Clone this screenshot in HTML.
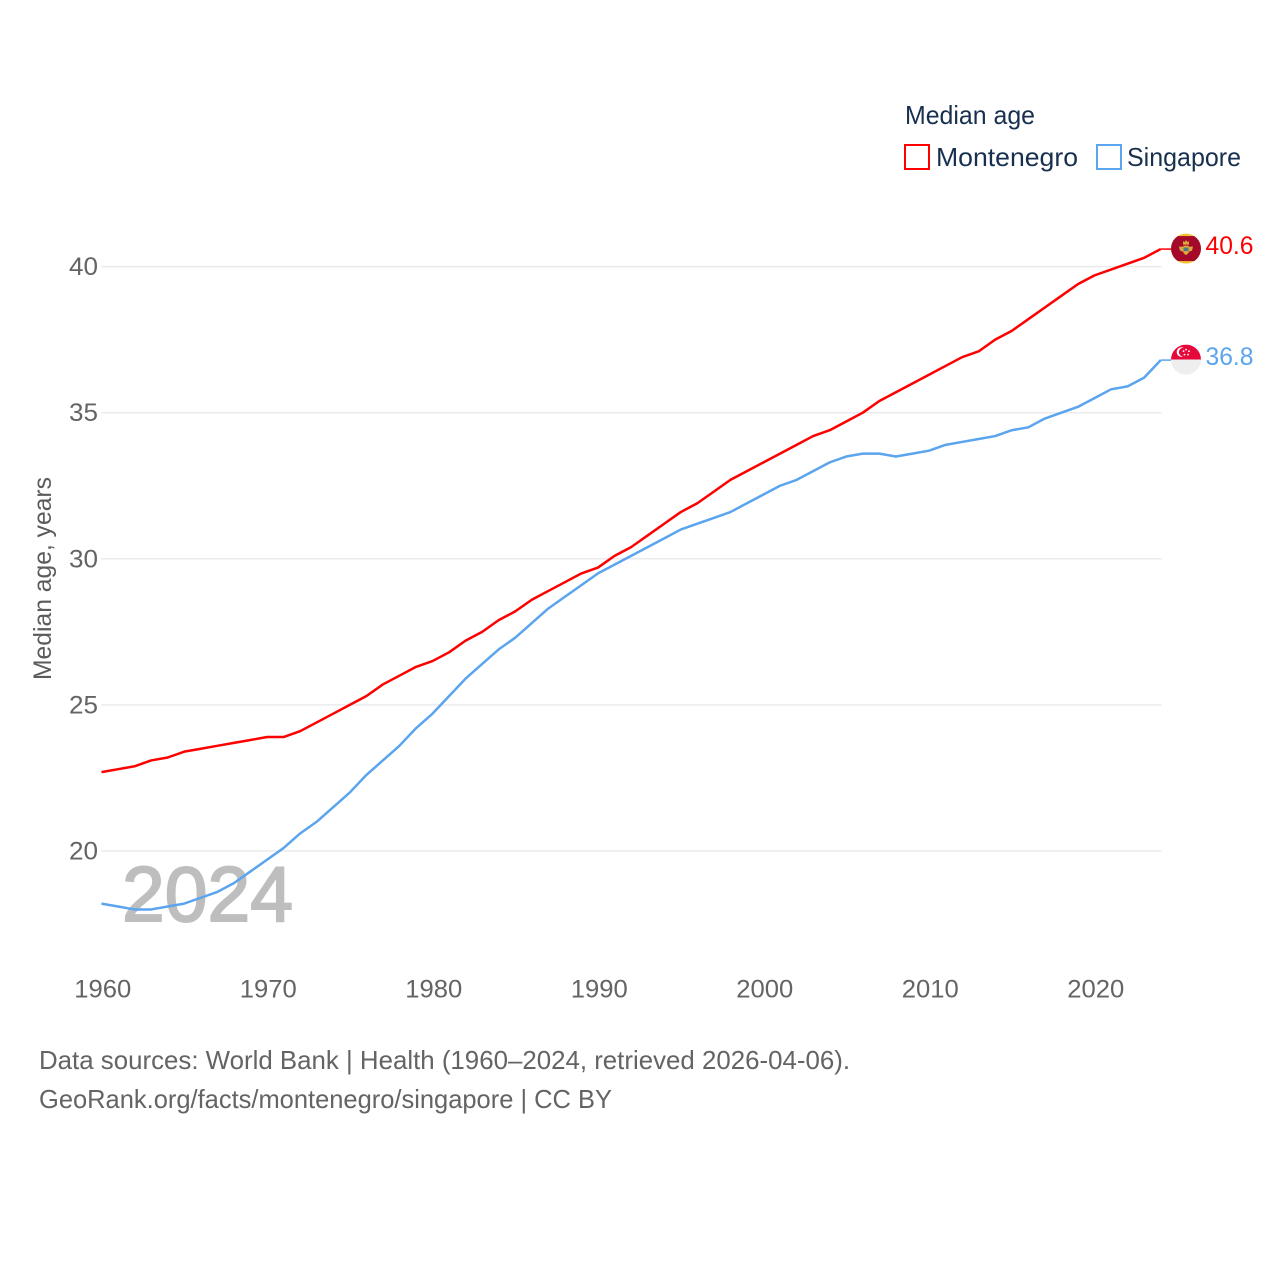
<!DOCTYPE html>
<html lang="en">
<head>
<meta charset="utf-8">
<title>Median age: Montenegro and Singapore</title>
<style>
html,body{margin:0;padding:0;background:#fff;}
svg{display:block;}
text{font-family:"Liberation Sans",sans-serif;}
</style>
</head>
<body>
<svg id="chart" xmlns="http://www.w3.org/2000/svg" width="1280" height="1280" viewBox="0 0 1280 1280">
  <rect x="0" y="0" width="1280" height="1280" fill="#fff"/>
  <g id="grid"></g>
  <text x="122" y="921" font-size="78" fill="#000" stroke="#000" stroke-width="2" opacity="0.25" textLength="171" lengthAdjust="spacingAndGlyphs">2024</text>
  <g id="yticks"></g>
  <g id="xticks"></g>
  <text transform="translate(51,680) rotate(-90)" font-size="25" fill="#5b5b5b" textLength="203" lengthAdjust="spacingAndGlyphs">Median age, years</text>
  <g id="series"></g>

  <g>
    <text x="905" y="124" font-size="26" fill="#18304f" textLength="130" lengthAdjust="spacingAndGlyphs">Median age</text>
    <g>
      <rect x="905" y="145" width="24" height="24" fill="#fff" stroke="#ff0000" stroke-width="2"/>
      <text x="936" y="166" font-size="26" fill="#18304f" textLength="142" lengthAdjust="spacingAndGlyphs">Montenegro</text>
    </g>
    <g>
      <rect x="1097" y="145" width="24" height="24" fill="#fff" stroke="#5ba4ee" stroke-width="2"/>
      <text x="1127" y="166" font-size="26" fill="#18304f" textLength="114" lengthAdjust="spacingAndGlyphs">Singapore</text>
    </g>
  </g>

  <defs>
    <clipPath id="flag-clip-me"><circle cx="0" cy="0" r="15"/></clipPath>
    <clipPath id="flag-clip-sg"><circle cx="0" cy="0" r="15"/></clipPath>
  </defs>
  <g id="flag-me">
    <g clip-path="url(#flag-clip-me)">
      <rect x="-15" y="-15" width="30" height="30" fill="#f2c230"/>
      <rect x="-15" y="-12.5" width="30" height="25" fill="#a5092a"/>
      <path d="M-7,-2 L-3,-2 L-2,-3 L2,-3 L3,-2 L7,-2 L6,2 L3,3 L2,5 L0,6.5 L-2,5 L-3,3 L-6,2 Z" fill="#d9a93a"/>
      <path d="M-3,-7.5 L-1.5,-6.5 L0,-8.5 L1.5,-6.5 L3,-7.5 L3,-4 L-3,-4 Z" fill="#d9a93a"/>
      <rect x="-2.5" y="-1" width="5" height="3.5" fill="#4a7a92"/>
    </g>
  </g>
  <g id="flag-sg">
    <g clip-path="url(#flag-clip-sg)">
      <rect x="-15" y="-15" width="30" height="15" fill="#e6083a"/>
      <rect x="-15" y="0" width="30" height="15" fill="#eeeeee"/>
      <circle cx="-4.5" cy="-7.5" r="4.8" fill="#fff"/>
      <circle cx="-2.7" cy="-7.5" r="4.4" fill="#e6083a"/>
      <circle cx="0" cy="-10" r="0.9" fill="#fff"/>
      <circle cx="3" cy="-8.5" r="0.9" fill="#fff"/>
      <circle cx="2" cy="-5" r="0.9" fill="#fff"/>
      <circle cx="-1.5" cy="-5" r="0.9" fill="#fff"/>
      <circle cx="-2.5" cy="-8.5" r="0.9" fill="#fff"/>
    </g>
  </g>
  <text id="end-label-me" font-size="25" fill="#ff0000" textLength="48" lengthAdjust="spacingAndGlyphs"></text>
  <text id="end-label-sg" font-size="25" fill="#5ba4ee" textLength="48" lengthAdjust="spacingAndGlyphs"></text>

  <g>
    <text x="39" y="1069" font-size="26" fill="#646464" textLength="811" lengthAdjust="spacingAndGlyphs">Data sources: World Bank | Health (1960–2024, retrieved 2026-04-06).</text>
    <text x="39" y="1108" font-size="26" fill="#646464" textLength="573" lengthAdjust="spacingAndGlyphs">GeoRank.org/facts/montenegro/singapore | CC BY</text>
  </g>
</svg>
<script>
const startYear = 1960;
const montenegroValues = [22.7,22.8,22.9,23.1,23.2,23.4,23.5,23.6,23.7,23.8,23.9,23.9,24.1,24.4,24.7,25.0,25.3,25.7,26.0,26.3,26.5,26.8,27.2,27.5,27.9,28.2,28.6,28.9,29.2,29.5,29.7,30.1,30.4,30.8,31.2,31.6,31.9,32.3,32.7,33.0,33.3,33.6,33.9,34.2,34.4,34.7,35.0,35.4,35.7,36.0,36.3,36.6,36.9,37.1,37.5,37.8,38.2,38.6,39.0,39.4,39.7,39.9,40.1,40.3,40.6];
const singaporeValues = [18.2,18.1,18.0,18.0,18.1,18.2,18.4,18.6,18.9,19.3,19.7,20.1,20.6,21.0,21.5,22.0,22.6,23.1,23.6,24.2,24.7,25.3,25.9,26.4,26.9,27.3,27.8,28.3,28.7,29.1,29.5,29.8,30.1,30.4,30.7,31.0,31.2,31.4,31.6,31.9,32.2,32.5,32.7,33.0,33.3,33.5,33.6,33.6,33.5,33.6,33.7,33.9,34.0,34.1,34.2,34.4,34.5,34.8,35.0,35.2,35.5,35.8,35.9,36.2,36.8];
const yTickValues = [20,25,30,35,40];
const xTickValues = [1960,1970,1980,1990,2000,2010,2020];

const NS = 'http://www.w3.org/2000/svg';
function xScale(year){ return 101.5 + (year - 1960) * 16.55; }
function yScale(v){ return 851 - (v - 20) * 29.22; }
function make(tag, parent, attrs){
  const el = document.createElementNS(NS, tag);
  for (const k in attrs) el.setAttribute(k, attrs[k]);
  parent.appendChild(el);
  return el;
}
const grid = document.getElementById('grid');
const yticks = document.getElementById('yticks');
const xticks = document.getElementById('xticks');
const series = document.getElementById('series');

yTickValues.forEach(function(v){
  const line = make('line', grid, {x1:101, x2:1161.5, y1:yScale(v), y2:yScale(v), stroke:'#ebebeb', 'stroke-width':1.5});
  
  
  const t = make('text', yticks, {x:98, y:yScale(v)+8.5, 'text-anchor':'end', 'font-size':25, fill:'#646464', textLength:29, lengthAdjust:'spacingAndGlyphs'});
  
  
  t.textContent = v;
});

xTickValues.forEach(function(y){
  const t = make('text', xticks, {x:xScale(y)+1.3, y:997.5, 'text-anchor':'middle', 'font-size':25, fill:'#646464', textLength:57, lengthAdjust:'spacingAndGlyphs'});
  
  
  t.textContent = y;
});

function linePath(values){
  const pts = values.map(function(v, i){ return xScale(startYear + i).toFixed(2) + ',' + yScale(v).toFixed(2); });
  return 'M' + pts.join(' L');
}
const lineMe = make('path', series, {d:linePath(montenegroValues), fill:'none', stroke:'#ff0000', 'stroke-width':2.5, 'stroke-linejoin':'round'});


const lineSg = make('path', series, {d:linePath(singaporeValues), fill:'none', stroke:'#5ba4ee', 'stroke-width':2.5, 'stroke-linejoin':'round'});



function placeEnd(flagId, labelId, values, color){
  const last = values[values.length - 1];
  const y = yScale(last);
  const conn = make('line', series, {x1:xScale(startYear + values.length - 1), x2:1171, y1:y, y2:y, stroke:color, 'stroke-width':1.5});
  
  
  document.getElementById(flagId).setAttribute('transform', 'translate(1186,' + (y - 0.5).toFixed(2) + ')');
  const t = document.getElementById(labelId);
  t.setAttribute('x', 1205.5);
  t.setAttribute('y', (y + 5).toFixed(2));
  t.textContent = last.toFixed(1);
}
placeEnd('flag-me', 'end-label-me', montenegroValues, '#ff0000');
placeEnd('flag-sg', 'end-label-sg', singaporeValues, '#5ba4ee');
</script>
</body>
</html>
